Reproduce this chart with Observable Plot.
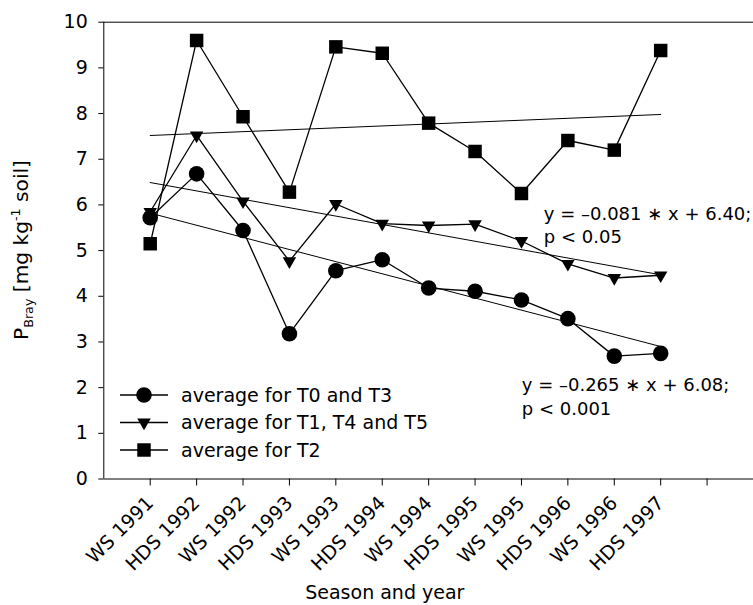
<!DOCTYPE html>
<html><head><meta charset="utf-8">
<script src="https://cdn.jsdelivr.net/npm/d3@7"></script>
<script src="https://cdn.jsdelivr.net/npm/@observablehq/plot@0.6"></script>
<style>body{margin:0;background:#fff} svg{display:block}</style>
</head><body><div id="chart"></div>
<script>
const seasons = ["WS 1991","HDS 1992","WS 1992","HDS 1993","WS 1993","HDS 1994","WS 1994","HDS 1995","WS 1995","HDS 1996","WS 1996","HDS 1997"];
const seriesNames = ["average for T0 and T3","average for T1, T4 and T5","average for T2"];
const avgT0T3   = [5.72,6.68,5.44,3.18,4.56,4.80,4.18,4.11,3.92,3.51,2.69,2.75];
const avgT1T4T5 = [5.85,7.52,6.08,4.77,6.02,5.59,5.55,5.58,5.21,4.71,4.40,4.46];
const avgT2     = [5.15,9.60,7.93,6.28,9.46,9.32,7.79,7.17,6.25,7.41,7.20,9.38];
// fitted trend lines: value at first and last season
const trendT0T3   = [5.82, 2.90];
const trendT1T4T5 = [6.49, 4.47];
const trendT2     = [7.52, 7.98];
const equations = ["y = –0.081 ∗ x + 6.40;\np < 0.05", "y = –0.265 ∗ x + 6.08;\np < 0.001"];
const yTicks = [0,1,2,3,4,5,6,7,8,9,10];
const xTicks = [1,2,3,4,5,6,7,8,9,10,11,12,13];

const allSeries = [avgT0T3, avgT1T4T5, avgT2];
const trends = [trendT0T3, trendT1T4T5, trendT2];
const symbols = ["circle", "triangle", "square"];
const radii = [7.8, 5.0, 7.6];
const rotates = [0, 180, 0];

const rows = allSeries.map((vals, s) => vals.map((v, i) => ({idx: i + 1, season: seasons[i], value: v, series: seriesNames[s]})));
const trendRows = trends.map((t, s) => [{idx: 1, value: t[0]}, {idx: seasons.length, value: t[1]}]);

const FONT = "DejaVu Sans, Liberation Sans, Arial, sans-serif";
const chart = Plot.plot({
  width: 753, height: 605,
  marginLeft: 103.3, marginRight: 0, marginTop: 21.7, marginBottom: 126.5,
  style: {fontFamily: FONT, fontSize: "19px", color: "black", background: "white", overflow: "visible"},
  x: {type: "linear", domain: [0, 14], ticks: xTicks, tickFormat: i => seasons[i - 1] ?? "", tickRotate: -45, tickSize: 7, tickPadding: 14, label: null},
  y: {domain: [0, 10], ticks: yTicks, tickSize: 5, tickPadding: 11, label: null},
  marks: [
    Plot.ruleY([0, 10], {stroke: "black", strokeWidth: 1}),
    Plot.ruleX([0], {stroke: "black", strokeWidth: 1}),
    ...trendRows.map(tr => Plot.line(tr, {x: "idx", y: "value", stroke: "black", strokeWidth: 1})),
    ...rows.map(r => Plot.line(r, {x: "idx", y: "value", stroke: "black", strokeWidth: 1.3})),
    ...rows.map((r, s) => Plot.dot(r, {x: "idx", y: "value", symbol: symbols[s], r: radii[s], rotate: rotates[s], fill: "black", stroke: "none"})),
    Plot.text([equations[0]], {frameAnchor: "top-left", dx: 440, dy: 201.7, textAnchor: "start", lineAnchor: "middle", lineHeight: 1.3, fontSize: 18, fill: "black"}),
    Plot.text([equations[1]], {frameAnchor: "top-left", dx: 418, dy: 373.3, textAnchor: "start", lineAnchor: "middle", lineHeight: 1.3, fontSize: 18, fill: "black"}),
    Plot.text(["Season and year"], {frameAnchor: "bottom-left", dx: 281, dy: 120, textAnchor: "middle", fill: "black"})
  ]
});
document.getElementById("chart").append(chart);

const svg = d3.select(chart);
// y-axis label with subscript and superscript
function yLabel(fs) {
  const yl = svg.append("text")
    .attr("transform", "translate(28,250) rotate(-90)")
    .attr("text-anchor", "middle")
    .attr("font-family", FONT).attr("font-size", fs).attr("fill", "black");
  const sub = fs * 0.63;
  yl.append("tspan").text("P");
  yl.append("tspan").attr("font-size", sub).attr("dy", 5).text("Bray");
  yl.append("tspan").attr("dy", -5).text(" [mg kg");
  yl.append("tspan").attr("font-size", sub).attr("dy", -8).text("-1");
  yl.append("tspan").attr("dy", 8).text(" soil]");
  return yl;
}
let yl = yLabel(19);
const len = yl.node().getBBox().width;
if (len > 0 && Math.abs(len - 180) > 6) {
  const fs = Math.max(15, Math.min(21, 19 * 180 / len));
  yl.remove();
  yl = yLabel(fs);
}

// legend
const lg = svg.append("g").attr("font-family", FONT).attr("font-size", 19).attr("fill", "black").attr("text-anchor", "start");
seriesNames.forEach((name, s) => {
  const y = 395 + s * 27.5;
  lg.append("line").attr("x1", 120).attr("x2", 168).attr("y1", y).attr("y2", y).attr("stroke", "black").attr("stroke-width", 1.3);
  const sym = {circle: d3.symbolCircle, triangle: d3.symbolTriangle, square: d3.symbolSquare}[symbols[s]];
  lg.append("path").attr("d", d3.symbol(sym, Math.PI * radii[s] * radii[s])())
    .attr("transform", `translate(144,${y}) rotate(${rotates[s]})`).attr("fill", "black");
  lg.append("text").attr("x", 181).attr("y", y).attr("dy", "0.35em").text(name);
});
</script>
</body></html>
